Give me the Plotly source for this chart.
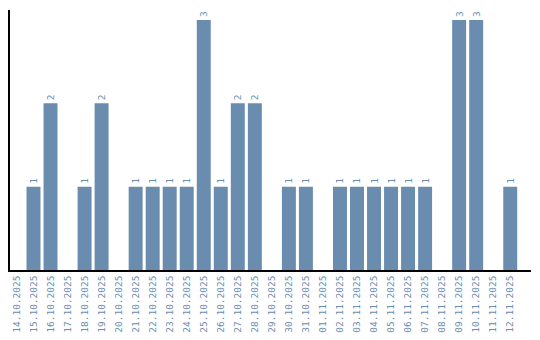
import plotly.graph_objects as go

dates = ["14.10.2025","15.10.2025","16.10.2025","17.10.2025","18.10.2025","19.10.2025",
         "20.10.2025","21.10.2025","22.10.2025","23.10.2025","24.10.2025","25.10.2025",
         "26.10.2025","27.10.2025","28.10.2025","29.10.2025","30.10.2025","31.10.2025",
         "01.11.2025","02.11.2025","03.11.2025","04.11.2025","05.11.2025","06.11.2025",
         "07.11.2025","08.11.2025","09.11.2025","10.11.2025","11.11.2025","12.11.2025"]
counts = [0,1,2,0,1,2,0,1,1,1,1,3,1,2,2,0,1,1,0,1,1,1,1,1,1,0,3,3,0,1]

labels = [str(v) if v > 0 else "" for v in counts]

fig = go.Figure(go.Bar(
    x=dates, y=counts, text=labels, textposition="outside", textangle=-90,
    textfont=dict(family="DejaVu Sans Mono", size=9.5, color="#6a8caf"),
    marker=dict(color="#6a8caf", line=dict(width=0)),
    cliponaxis=False,
))
fig.update_layout(
    width=540, height=340, margin=dict(l=10, r=9, t=10, b=70, autoexpand=False),
    paper_bgcolor="white", plot_bgcolor="white", bargap=0.18, showlegend=False,
)
fig.update_xaxes(type="category", range=[-0.38, 30.22], tickangle=-90, showline=True,
                 linecolor="black", linewidth=1.5, automargin=False,
                 showgrid=False, ticks="", tickfont=dict(family="DejaVu Sans Mono", size=9.5, color="#6a8caf"))
fig.update_yaxes(range=[0, 3.12], showline=True, linecolor="black", linewidth=1.5, showgrid=False,
                 showticklabels=False, ticks="", zeroline=False, automargin=False)
fig.write_html("out.html")
